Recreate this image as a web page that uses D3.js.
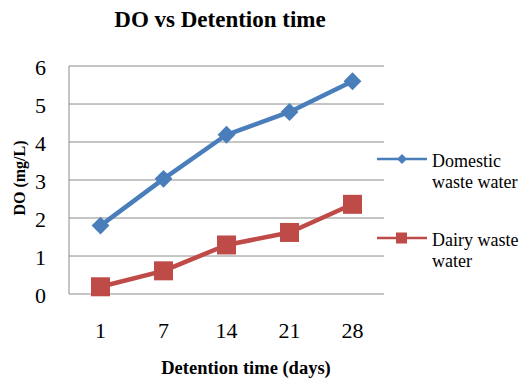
<!DOCTYPE html>
<html>
<head>
<meta charset="utf-8">
<script src="https://cdn.jsdelivr.net/npm/d3@7"></script>
<style>
  html, body { margin: 0; padding: 0; background: #fff; }
  svg { display: block; }
  text { font-family: "Liberation Serif", "Times New Roman", serif; fill: #000; }
</style>
</head>
<body>
<svg id="chart" width="521" height="378"></svg>
<script>
// Detention time categories (days)
const categories = ["1", "7", "14", "21", "28"];
// Dissolved oxygen (mg/L) per series
const domesticValues = [1.8, 3.03, 4.19, 4.79, 5.6];
const dairyValues = [0.19, 0.61, 1.29, 1.62, 2.36];
const yTicks = [0, 1, 2, 3, 4, 5, 6];
const seriesNames = [["Domestic", "waste water"], ["Dairy waste", "water"]];
const seriesColors = ["#4A7EBB", "#BE4B48"];

const svg = d3.select("#chart");
const plot = { left: 69, right: 384, top: 66, bottom: 294 };

const x = d3.scaleBand().domain(categories).range([plot.left, plot.right]);
const y = d3.scaleLinear().domain([0, 6]).range([plot.bottom, plot.top]);
const cx = c => x(c) + x.bandwidth() / 2;

// Horizontal gridlines
svg.append("g").selectAll("line").data(yTicks.filter(d => d > 0)).join("line")
  .attr("x1", plot.left).attr("x2", plot.right)
  .attr("y1", d => y(d)).attr("y2", d => y(d))
  .attr("stroke", "#8c8c8c").attr("stroke-width", 1);

// Axis lines
svg.append("line").attr("x1", plot.left).attr("x2", plot.left)
  .attr("y1", plot.top).attr("y2", plot.bottom).attr("stroke", "#8c8c8c");
svg.append("line").attr("x1", plot.left).attr("x2", plot.right)
  .attr("y1", plot.bottom).attr("y2", plot.bottom).attr("stroke", "#8c8c8c");

// Y tick labels
svg.append("g").selectAll("text").data(yTicks).join("text")
  .attr("x", 46).attr("y", d => y(d) + 1).attr("dy", "0.35em")
  .attr("text-anchor", "end").style("font-size", "22px").text(d => d);

// X tick labels
svg.append("g").selectAll("text").data(categories).join("text")
  .attr("x", d => cx(d)).attr("y", 338)
  .attr("text-anchor", "middle").style("font-size", "22px").text(d => d);

// Title and axis titles
svg.append("text").attr("x", 220).attr("y", 27).attr("text-anchor", "middle")
  .style("font-size", "23px").style("font-weight", "bold").text("DO vs Detention time");
svg.append("text").attr("x", 246).attr("y", 374).attr("text-anchor", "middle")
  .style("font-size", "18.5px").style("font-weight", "bold").text("Detention time (days)");
svg.append("text").attr("transform", "translate(25,178) rotate(-90)").attr("text-anchor", "middle")
  .style("font-size", "16px").style("font-weight", "bold").text("DO (mg/L)");

const line = d3.line().x((d, i) => cx(categories[i])).y(d => y(d));
const series = [domesticValues, dairyValues];

series.forEach((vals, si) => {
  svg.append("path").datum(vals).attr("d", line)
    .attr("fill", "none").attr("stroke", seriesColors[si]).attr("stroke-width", 4.5)
    .attr("stroke-linejoin", "round");
  const g = svg.append("g");
  if (si === 0) {
    g.selectAll("path").data(vals).join("path")
      .attr("d", d3.symbol(d3.symbolSquare, 160)())
      .attr("transform", (d, i) => `translate(${cx(categories[i])},${y(d)}) rotate(45)`)
      .attr("fill", seriesColors[si]);
  } else {
    g.selectAll("rect").data(vals).join("rect")
      .attr("x", (d, i) => cx(categories[i]) - 9.5)
      .attr("y", d => y(d) - 9.5)
      .attr("width", 19).attr("height", 19)
      .attr("fill", seriesColors[si]);
  }
});

// Legend
const legendY = [159, 238];
seriesNames.forEach((name, si) => {
  const ly = legendY[si];
  svg.append("line").attr("x1", 377).attr("x2", 427).attr("y1", ly).attr("y2", ly)
    .attr("stroke", seriesColors[si]).attr("stroke-width", 2.5);
  if (si === 0) {
    svg.append("path").attr("d", d3.symbol(d3.symbolSquare, 50)())
      .attr("transform", `translate(402,${ly}) rotate(45)`).attr("fill", seriesColors[si]);
  } else {
    svg.append("rect").attr("x", 396).attr("y", ly - 5.5).attr("width", 11).attr("height", 11)
      .attr("fill", seriesColors[si]);
  }
  svg.append("text").attr("x", 432).attr("y", ly + 8)
    .style("font-size", "18px").text(name[0]);
  svg.append("text").attr("x", 432).attr("y", ly + 29)
    .style("font-size", "18px").text(name[1]);
});
</script>
</body>
</html>
